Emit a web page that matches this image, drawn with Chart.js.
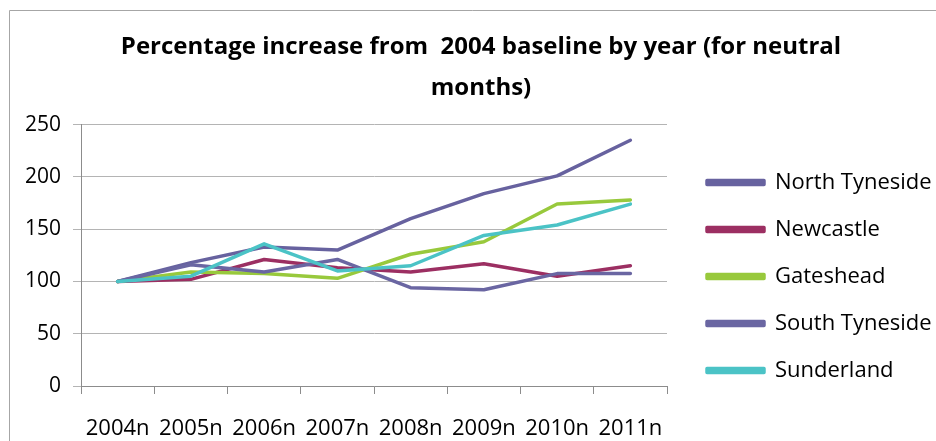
<!DOCTYPE html>
<html>
<head>
<meta charset="utf-8">
<script src="https://cdn.jsdelivr.net/npm/chart.js@4"></script>
<style>
  html, body { margin: 0; padding: 0; background: #fff; }
  #wrap { width: 936px; height: 441px; position: relative; }
</style>
</head>
<body>
<div id="wrap"><canvas id="c"></canvas></div>
<script>
const categories = ['2004n', '2005n', '2006n', '2007n', '2008n', '2009n', '2010n', '2011n'];
const northTyneside = [100, 118, 133, 130, 160, 184, 201, 235];
const newcastle     = [100, 102, 121, 113, 109, 117, 105, 115];
const gateshead     = [100, 109, 107.5, 103, 126, 138, 174, 178];
const southTyneside = [100, 116, 109, 121, 94, 92, 107.5, 107.5];
const sunderland    = [100, 105, 136, 110, 115, 144, 154, 174];
const yTicks = [0, 50, 100, 150, 200, 250];

const FONT = "'Open Sans', sans-serif";

const borderPlugin = {
  id: 'outerBorder',
  beforeDraw(chart) {
    const ctx = chart.ctx;
    ctx.save();
    ctx.strokeStyle = '#a6a6a6';
    ctx.lineWidth = 1;
    ctx.beginPath();
    ctx.moveTo(9.5, 441);
    ctx.lineTo(9.5, 10.5);
    ctx.lineTo(936, 10.5);
    ctx.stroke();
    ctx.restore();
  }
};

const legendTweak = {
  id: 'legendTweak',
  afterInit(chart) {
    const lg = chart.legend;
    if (!lg) return;
    const orig = lg.fit.bind(lg);
    lg.fit = function () {
      orig();
      this.width = 269;
    };
  },
  afterLayout(chart) {
    const lg = chart.legend;
    if (!lg) return;
    lg.left += 15; lg.right += 15;
    lg.top += 56; lg.bottom += 56;
  }
};

function ds(label, data, color, order) {
  return {
    label, data, borderColor: color, backgroundColor: color,
    borderWidth: 3.5, pointRadius: 0, pointHoverRadius: 0, tension: 0,
    borderCapStyle: 'round', borderJoinStyle: 'round', fill: false, order
  };
}

new Chart(document.getElementById('c'), {
  type: 'line',
  data: {
    labels: categories,
    datasets: [
      ds('North Tyneside', northTyneside, '#67629f', 5),
      ds('Newcastle', newcastle, '#9c2f62', 4),
      ds('Gateshead', gateshead, '#98c93c', 3),
      ds('South Tyneside', southTyneside, '#6a66a2', 2),
      ds('Sunderland', sunderland, '#4bc3c6', 1)
    ]
  },
  options: {
    responsive: true,
    maintainAspectRatio: false,
    animation: false,
    devicePixelRatio: 1,
    layout: { padding: { left: 26, right: 0, top: 0, bottom: 0 } },
    plugins: {
      tooltip: { enabled: false },
      title: {
        display: true,
        text: ['Percentage increase from  2004 baseline by year (for neutral', 'months)'],
        color: '#000',
        font: { family: FONT, size: 24, weight: 'bold', lineHeight: 1.7 },
        padding: { top: 27, bottom: 16 }
      },
      legend: {
        position: 'right',
        align: 'center',
        labels: {
          color: '#000',
          font: { family: FONT, size: 22 },
          boxWidth: 57,
          boxHeight: 4,
          padding: 25,
          sort: (a, b) => a.datasetIndex - b.datasetIndex
        }
      }
    },
    scales: {
      x: {
        offset: true,
        afterFit(scale) { scale.height = 55; },
        grid: {
          display: true, drawOnChartArea: false, drawTicks: true,
          tickLength: 8, offset: true, color: '#8c8c8c', lineWidth: 1
        },
        border: { display: true, color: '#8c8c8c', width: 1 },
        ticks: { color: '#000', font: { family: FONT, size: 22 }, padding: 22, maxRotation: 0, autoSkip: false }
      },
      y: {
        min: 0, max: 250,
        afterBuildTicks(scale) { scale.ticks = yTicks.map(v => ({ value: v })); },
        afterFit(scale) { scale.width = 55; },
        grid: {
          color: '#b4b4b4', lineWidth: 1, drawTicks: true, tickLength: 8
        },
        border: { display: true, color: '#8c8c8c', width: 1 },
        ticks: { color: '#000', font: { family: FONT, size: 21 }, padding: 12 }
      }
    }
  },
  plugins: [borderPlugin, legendTweak]
});
</script>
</body>
</html>
